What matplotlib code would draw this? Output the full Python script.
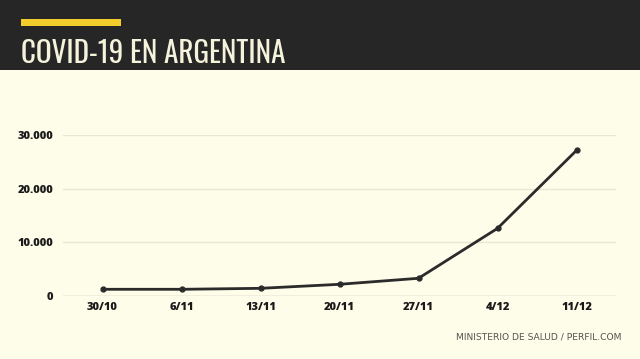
import matplotlib.pyplot as plt
from matplotlib.patches import Rectangle
from matplotlib.ticker import FuncFormatter

fechas = ["30/10", "6/11", "13/11", "20/11", "27/11", "4/12", "11/12"]
casos = [1250, 1250, 1430, 2180, 3300, 12600, 27130]
y_ticks = [0, 10000, 20000, 30000]

BG = "#fefde9"
HEADER = "#262626"
LINE = "#2b2b2b"


def miles(v, pos):
    return f"{int(v):,}".replace(",", ".")


def main():
    fig = plt.figure(figsize=(6.4, 3.59), dpi=100, facecolor=BG)

    # header band
    fig.patches.append(Rectangle((0, 1 - 70 / 359), 1, 70 / 359, transform=fig.transFigure,
                                 facecolor=HEADER, edgecolor="none", zorder=0))
    fig.patches.append(Rectangle((21 / 640, 1 - 26 / 359), 100 / 640, 7 / 359,
                                 transform=fig.transFigure, facecolor="#f2cd2c",
                                 edgecolor="none", zorder=1))
    fig.text(21 / 640, 1 - 63 / 359, "COVID-19 EN ARGENTINA", color="#f6f3dc",
             fontsize=21, family=["Oswald", "DejaVu Sans"],
             va="baseline", ha="left")

    ax = fig.add_axes([63 / 640, 63 / 359, 553 / 640, 161 / 359])
    ax.set_facecolor(BG)
    x = range(len(fechas))
    ax.plot(x, casos, color=LINE, lw=2, marker="o", ms=3.5, zorder=3)

    ax.set_xlim(-0.5, len(fechas) - 0.5)
    ax.set_ylim(0, 30000)
    ax.set_yticks(y_ticks)
    ax.yaxis.set_major_formatter(FuncFormatter(miles))
    ax.set_xticks(list(x))
    ax.set_xticklabels(fechas)
    ax.grid(axis="y", color="#e9e7d0", lw=1)
    ax.axhline(0, color="#cfcdb8", lw=1, zorder=2)
    ax.set_axisbelow(True)
    for s in ax.spines.values():
        s.set_visible(False)
    ax.tick_params(length=0, labelsize=8, colors="#1a1a1a")
    ax.tick_params(axis="y", pad=7)
    ax.tick_params(axis="x", pad=4)
    for lab in ax.get_xticklabels() + ax.get_yticklabels():
        lab.set_fontweight(800)
        lab.set_family(["Open Sans", "DejaVu Sans"])

    fig.text(622 / 640, 1 - 337 / 359, "MINISTERIO DE SALUD / PERFIL.COM",
             color="#55554f", fontsize=6.6, ha="right", va="center",
             family="DejaVu Sans")

    fig.savefig("out.png", dpi=100, facecolor=BG)


if __name__ == '__main__':
    main()
